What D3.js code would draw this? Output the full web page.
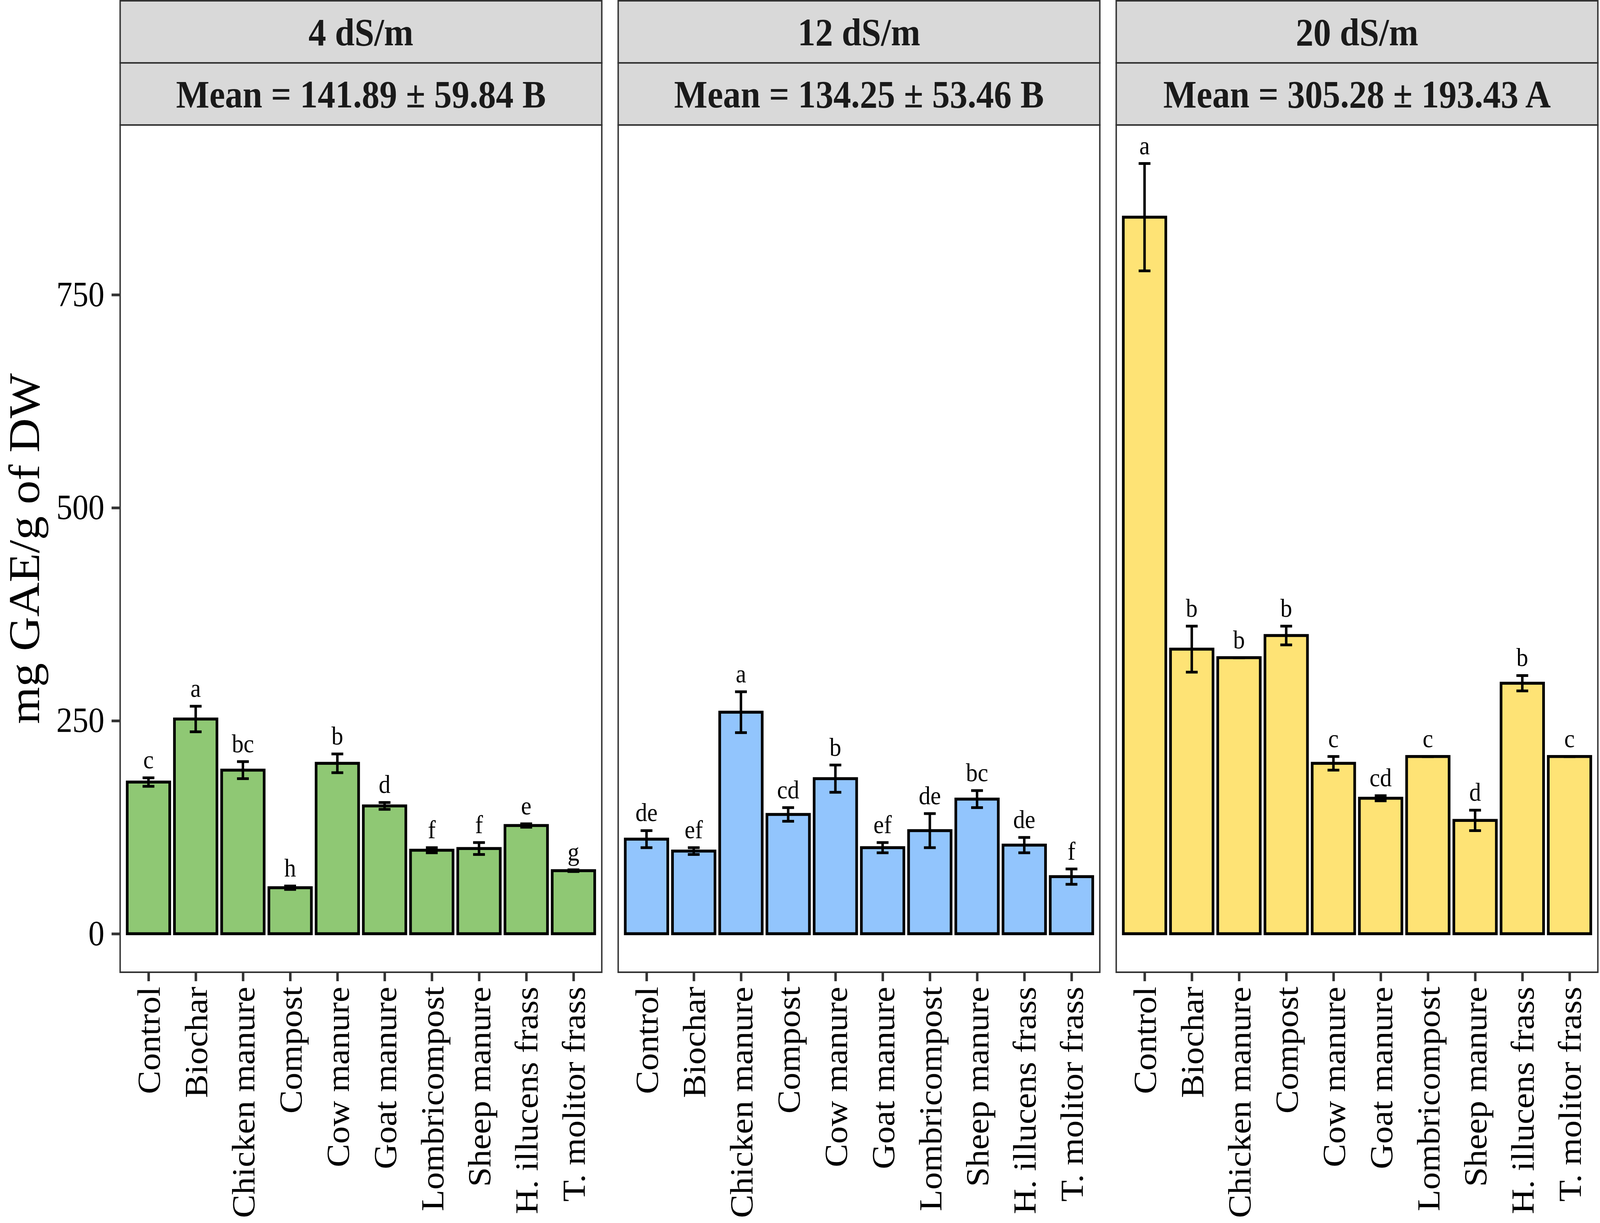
<!DOCTYPE html>
<html>
<head>
<meta charset="utf-8">
<script src="https://cdn.jsdelivr.net/npm/d3@7"></script>
<style>
	html, body { margin: 0; padding: 0; background: #fff; overflow: hidden; }
	svg { display: block; width: 100vw; height: 100vh; }
</style>
</head>
<body>
<svg id="svg" viewBox="0 0 4488 3131" preserveAspectRatio="none"></svg>
<script>
// data stuffs
const categories = [
	'Control',
	'Biochar',
	'Chicken manure',
	'Compost',
	'Cow manure',
	'Goat manure',
	'Lombricompost',
	'Sheep manure',
	'H. illucens frass',
	'T. molitor frass'
];

const salinity = ['4 dS/m', '12 dS/m', '20 dS/m'];
const meanText = [
	'Mean = 141.89 ± 59.84 B',
	'Mean = 134.25 ± 53.46 B',
	'Mean = 305.28 ± 193.43 A'
];

const mean4 = [178, 252, 192, 54, 200, 150, 98, 100, 127, 74];
const se4 = [5, 15, 10, 2, 11, 4, 3, 7, 2, 1];
const letters4 = ['c', 'a', 'bc', 'h', 'b', 'd', 'f', 'f', 'e', 'g'];

const mean12 = [111, 97, 260, 140, 182, 101, 121, 158, 104, 67];
const se12 = [10, 4, 24, 8, 16, 6, 20, 10, 9, 9];
const letters12 = ['de', 'ef', 'a', 'cd', 'b', 'ef', 'de', 'bc', 'de', 'f'];

const mean20 = [841, 334, 324, 350, 200, 159, 208, 133, 294, 208];
const se20 = [63, 27, 0, 11, 8, 3, 0, 12, 9, 0];
const letters20 = ['a', 'b', 'b', 'b', 'c', 'cd', 'c', 'd', 'b', 'c'];

const yTicks = [0, 250, 500, 750];
const fills = ['#8fc874', '#92c5fd', '#fee375'];

const panels = [
	{ means: mean4, ses: se4, letters: letters4 },
	{ means: mean12, ses: se12, letters: letters12 },
	{ means: mean20, ses: se20, letters: letters20 }
];

// layout
const panelLeft = 337;
const panelW = 1351;
const panelGap = 46;
const stripTop = 2;
const stripH = 159;
const plotTop = stripTop + stripH * 2;
const plotBottom = 2489;
const serif = '"Liberation Serif", "Times New Roman", serif';

// scales
const topVal = d3.max(panels, (p) => d3.max(p.means, (m, i) => m + p.ses[i]));
const pad = topVal * 0.05;

const yscale = d3
	.scaleLinear()
	.domain([-pad, topVal + pad])
	.range([plotBottom, plotTop]);

const svg = d3.select('#svg');

// y axis title
svg
	.append('text')
	.attr('transform', `translate(110, ${(plotTop + plotBottom) / 2}) rotate(-90)`)
	.attr('text-anchor', 'middle')
	.attr('font-family', serif)
	.attr('font-size', 122)
	.attr('fill', '#000')
	.text('mg GAE/g of DW');

// y axis
const leftAxis = d3.axisLeft(yscale).tickValues(yTicks).tickSize(24).tickPadding(20);
const yAxisG = svg
	.append('g')
	.attr('transform', `translate(${panelLeft}, 0)`)
	.call(leftAxis);
yAxisG.select('.domain').remove();
yAxisG.selectAll('line').attr('stroke', '#333').attr('stroke-width', 7);
yAxisG
	.selectAll('text')
	.attr('font-family', serif)
	.attr('font-size', 90)
	.attr('fill', '#000');

panels.forEach((p, k) => {
	const x0 = panelLeft + k * (panelW + panelGap);
	const g = svg.append('g');

	const xscale = d3
		.scalePoint()
		.domain(categories)
		.range([x0, x0 + panelW])
		.padding(0.6);
	const step = xscale.step();
	const rows = categories.map((c, i) => ({
		name: c,
		mean: p.means[i],
		se: p.ses[i],
		letter: p.letters[i]
	}));

	// strips
	[salinity[k], meanText[k]].forEach((t, j) => {
		const sy = stripTop + j * stripH;
		g.append('rect')
			.attr('x', x0)
			.attr('y', sy)
			.attr('width', panelW)
			.attr('height', stripH)
			.attr('fill', '#d9d9d9')
			.attr('stroke', '#333')
			.attr('stroke-width', 4);
		g.append('text')
			.attr('x', x0 + panelW / 2)
			.attr('y', sy + stripH / 2)
			.attr('dy', '0.35em')
			.attr('text-anchor', 'middle')
			.attr('font-family', serif)
			.attr('font-weight', 'bold')
			.attr('font-size', 99)
			.attr('fill', '#1a1a1a')
			.text(t);
	});

	// bars
	g.selectAll('rect.bar')
		.data(rows)
		.enter()
		.append('rect')
		.attr('class', 'bar')
		.attr('x', (d) => xscale(d.name) - step * 0.45)
		.attr('y', (d) => yscale(d.mean))
		.attr('width', step * 0.9)
		.attr('height', (d) => yscale(0) - yscale(d.mean))
		.attr('fill', fills[k])
		.attr('stroke', '#000')
		.attr('stroke-width', 7.5);

	// error bars
	const eb = g.selectAll('g.err').data(rows).enter().append('g').attr('class', 'err');
	eb.append('line')
		.attr('x1', (d) => xscale(d.name))
		.attr('x2', (d) => xscale(d.name))
		.attr('y1', (d) => yscale(d.mean - d.se))
		.attr('y2', (d) => yscale(d.mean + d.se));
	eb.append('line')
		.attr('x1', (d) => xscale(d.name) - step * 0.125)
		.attr('x2', (d) => xscale(d.name) + step * 0.125)
		.attr('y1', (d) => yscale(d.mean + d.se))
		.attr('y2', (d) => yscale(d.mean + d.se));
	eb.append('line')
		.attr('x1', (d) => xscale(d.name) - step * 0.125)
		.attr('x2', (d) => xscale(d.name) + step * 0.125)
		.attr('y1', (d) => yscale(d.mean - d.se))
		.attr('y2', (d) => yscale(d.mean - d.se));
	eb.selectAll('line').attr('stroke', '#000').attr('stroke-width', 7);

	// letters
	g.selectAll('text.letter')
		.data(rows)
		.enter()
		.append('text')
		.attr('class', 'letter')
		.attr('x', (d) => xscale(d.name))
		.attr('y', (d) => yscale(d.mean + d.se) - 24)
		.attr('text-anchor', 'middle')
		.attr('font-family', serif)
		.attr('font-size', 66)
		.attr('fill', '#000')
		.text((d) => d.letter);

	// panel border
	g.append('rect')
		.attr('x', x0)
		.attr('y', plotTop)
		.attr('width', panelW)
		.attr('height', plotBottom - plotTop)
		.attr('fill', 'none')
		.attr('stroke', '#333')
		.attr('stroke-width', 4);

	// x axis
	const bottomAxis = d3.axisBottom(xscale).tickSize(23).tickPadding(14);
	const xAxisG = g
		.append('g')
		.attr('transform', `translate(0, ${plotBottom})`)
		.call(bottomAxis);
	xAxisG.select('.domain').remove();
	xAxisG.selectAll('line').attr('stroke', '#333').attr('stroke-width', 7);
	xAxisG
		.selectAll('text')
		.attr('transform', 'rotate(-90)')
		.attr('x', -37)
		.attr('y', 0)
		.attr('dy', '0.35em')
		.attr('text-anchor', 'end')
		.attr('font-family', serif)
		.attr('font-size', 90)
		.attr('fill', '#000');
});
</script>
</body>
</html>
